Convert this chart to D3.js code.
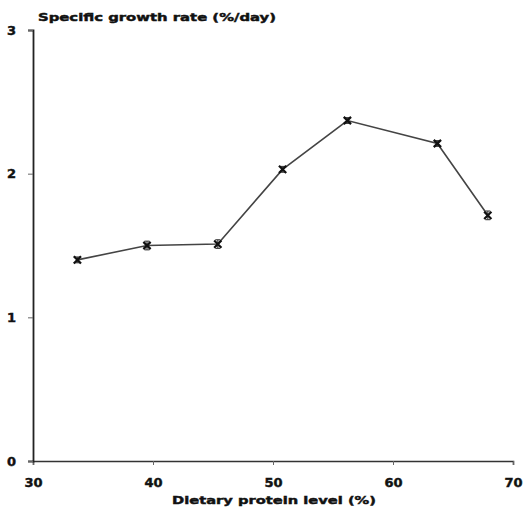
<!DOCTYPE html>
<html>
<head>
<meta charset="utf-8">
<script src="https://cdn.jsdelivr.net/npm/d3@7"></script>
<style>
  html, body { margin: 0; padding: 0; background: #fff; }
  svg { display: block; }
  text { font-family: "DejaVu Sans", sans-serif; font-weight: bold; fill: #111; stroke: #111; stroke-width: 0.45px; }
</style>
</head>
<body>
<svg id="chart" width="529" height="517"></svg>
<script>
// Dietary protein level (%) and specific growth rate (%/day)
const proteinLevels = [33.7, 39.5, 45.4, 50.8, 56.2, 63.7, 67.9];
const growthRates   = [1.40, 1.50, 1.51, 2.03, 2.37, 2.21, 1.71];
const growthErrors  = [0.02, 0.03, 0.03, 0.02, 0.02, 0.02, 0.03];

const xTicks = [30, 40, 50, 60, 70];
const yTicks = [0, 1, 2, 3];

const xTitle = "Dietary protein level (%)";
const yTitle = "Specific growth rate (%/day)";

const svg = d3.select("#chart");

const x = d3.scaleLinear().domain([30, 70]).range([33, 513]);
const y = d3.scaleLinear().domain([0, 3]).range([461, 30]);

// Axes
const xAxis = svg.append("g")
  .attr("transform", `translate(0,${y(0)})`)
  .call(d3.axisBottom(x).tickValues(xTicks).tickSize(4).tickPadding(13).tickFormat(d3.format("d")));
xAxis.select(".domain").attr("stroke", "#333").attr("stroke-width", 1.6);
xAxis.selectAll(".tick line").attr("stroke", "#666").attr("stroke-width", 1);
xAxis.selectAll(".tick text")
  .style("font-size", "13px").style("font-weight", "bold")
  .style("font-family", "'DejaVu Sans', sans-serif").attr("fill", "#111");

const yAxis = svg.append("g")
  .attr("transform", `translate(${x(30)},0)`)
  .call(d3.axisLeft(y).tickValues(yTicks).tickSize(5).tickPadding(12).tickFormat(d3.format("d")));
yAxis.select(".domain").attr("stroke", "#222").attr("stroke-width", 1.8);
yAxis.selectAll(".tick line").attr("stroke", "#666").attr("stroke-width", 1);
yAxis.selectAll(".tick text")
  .style("font-size", "13px").style("font-weight", "bold")
  .style("font-family", "'DejaVu Sans', sans-serif").attr("fill", "#111");

// Axis titles
svg.append("text")
  .attr("x", 38).attr("y", 21)
  .attr("textLength", 238).attr("lengthAdjust", "spacingAndGlyphs")
  .style("font-size", "11px")
  .text(yTitle);

svg.append("text")
  .attr("x", 172).attr("y", 504)
  .attr("textLength", 204).attr("lengthAdjust", "spacingAndGlyphs")
  .style("font-size", "11px")
  .text(xTitle);

// Data
const data = proteinLevels.map((p, i) => ({ p, g: growthRates[i], e: growthErrors[i] }));

svg.append("path")
  .datum(data)
  .attr("fill", "none")
  .attr("stroke", "#444")
  .attr("stroke-width", 1.6)
  .attr("d", d3.line().x(d => x(d.p)).y(d => y(d.g)));

// Error bars
const eb = svg.append("g").attr("stroke", "#444").attr("stroke-width", 1.2);
eb.selectAll("line.bar").data(data).join("line")
  .attr("x1", d => x(d.p)).attr("x2", d => x(d.p))
  .attr("y1", d => y(d.g + d.e)).attr("y2", d => y(d.g - d.e));
eb.selectAll("line.capTop").data(data).join("line")
  .attr("x1", d => x(d.p) - 2.5).attr("x2", d => x(d.p) + 2.5)
  .attr("y1", d => y(d.g + d.e)).attr("y2", d => y(d.g + d.e));
eb.selectAll("line.capBot").data(data).join("line")
  .attr("x1", d => x(d.p) - 2.5).attr("x2", d => x(d.p) + 2.5)
  .attr("y1", d => y(d.g - d.e)).attr("y2", d => y(d.g - d.e));

// Markers
svg.append("g").selectAll("path").data(data).join("path")
  .attr("transform", d => `translate(${x(d.p)},${y(d.g)})`)
  .attr("d", d3.symbol().type(d3.symbolX).size(36))
  .attr("fill", "none")
  .attr("stroke", "#111")
  .attr("stroke-width", 2.2);
</script>
</body>
</html>
